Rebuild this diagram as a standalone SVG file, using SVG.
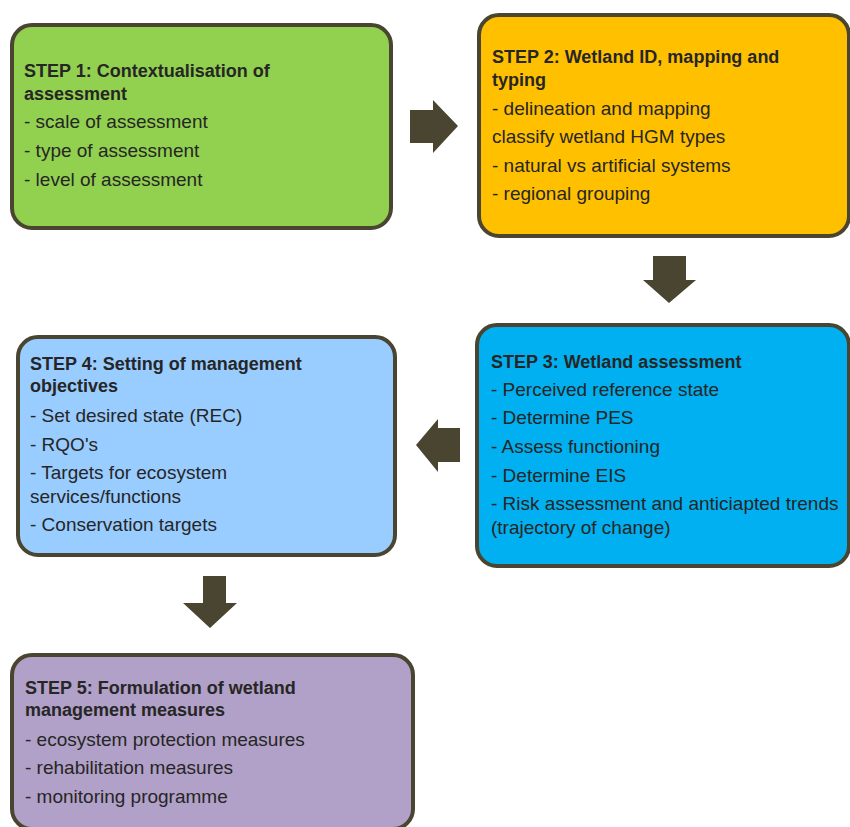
<svg xmlns="http://www.w3.org/2000/svg" width="850" height="827" viewBox="0 0 850 827">
<style>
.box{stroke:#4a4530;stroke-width:4}
.t{font-family:"Liberation Sans",Arial,sans-serif;fill:#262626}
.h{font-size:18px;font-weight:bold}
.i{font-size:19px}
.arr{fill:#4a4530}
</style>
<rect width="850" height="827" fill="#ffffff"/>
<g id="step1">
<rect class="box" x="12" y="25" width="379" height="203" rx="20" fill="#92d050"/>
<text class="t h" x="24" y="77">STEP 1: Contextualisation of</text>
<text class="t h" x="24" y="100">assessment</text>
<text class="t i" x="24" y="128">- scale of assessment</text>
<text class="t i" x="24" y="157">- type of assessment</text>
<text class="t i" x="24" y="186">- level of assessment</text>
</g>
<g id="step2">
<rect class="box" x="479" y="15" width="370" height="221" rx="20" fill="#ffc000"/>
<text class="t h" x="492" y="63">STEP 2: Wetland ID, mapping and</text>
<text class="t h" x="492" y="86">typing</text>
<text class="t i" x="492" y="115">- delineation and mapping</text>
<text class="t i" x="492" y="143">classify wetland HGM types</text>
<text class="t i" x="492" y="172">- natural vs artificial systems</text>
<text class="t i" x="492" y="200">- regional grouping</text>
</g>
<g id="step3">
<rect class="box" x="477" y="325" width="372" height="241" rx="20" fill="#00b0f0"/>
<text class="t h" x="491" y="368">STEP 3: Wetland assessment</text>
<text class="t i" x="491" y="396">- Perceived reference state</text>
<text class="t i" x="491" y="424">- Determine PES</text>
<text class="t i" x="491" y="453">- Assess functioning</text>
<text class="t i" x="491" y="482">- Determine EIS</text>
<text class="t i" x="491" y="510">- Risk assessment and anticiapted trends</text>
<text class="t i" x="491" y="534">(trajectory of change)</text>
</g>
<g id="step4">
<rect class="box" x="18" y="337" width="377" height="218" rx="20" fill="#99ccff"/>
<text class="t h" x="30" y="370">STEP 4: Setting of management</text>
<text class="t h" x="30" y="392">objectives</text>
<text class="t i" x="30" y="422">- Set desired state (REC)</text>
<text class="t i" x="30" y="451">- RQO's</text>
<text class="t i" x="30" y="479">- Targets for ecosystem</text>
<text class="t i" x="30" y="503">services/functions</text>
<text class="t i" x="30" y="531">- Conservation targets</text>
</g>
<g id="step5">
<rect class="box" x="12" y="655" width="401" height="174" rx="20" fill="#b1a0c7"/>
<text class="t h" x="25" y="694">STEP 5: Formulation of wetland</text>
<text class="t h" x="25" y="716">management measures</text>
<text class="t i" x="25" y="746">- ecosystem protection measures</text>
<text class="t i" x="25" y="774">- rehabilitation measures</text>
<text class="t i" x="25" y="803">- monitoring programme</text>
</g>
<g id="connectors">
<polygon class="arr" points="410,110 433,110 433,100 458,126 433,153 433,143 410,143"/>
<polygon class="arr" points="653,256 686,256 686,280 696,280 669,303 643,280 653,280"/>
<polygon class="arr" points="460,428 438,428 438,419 416,445 438,472 438,462 460,462"/>
<polygon class="arr" points="203,576 226,576 226,603 237,603 210,628 183,603 203,603"/>
</g>
</svg>
